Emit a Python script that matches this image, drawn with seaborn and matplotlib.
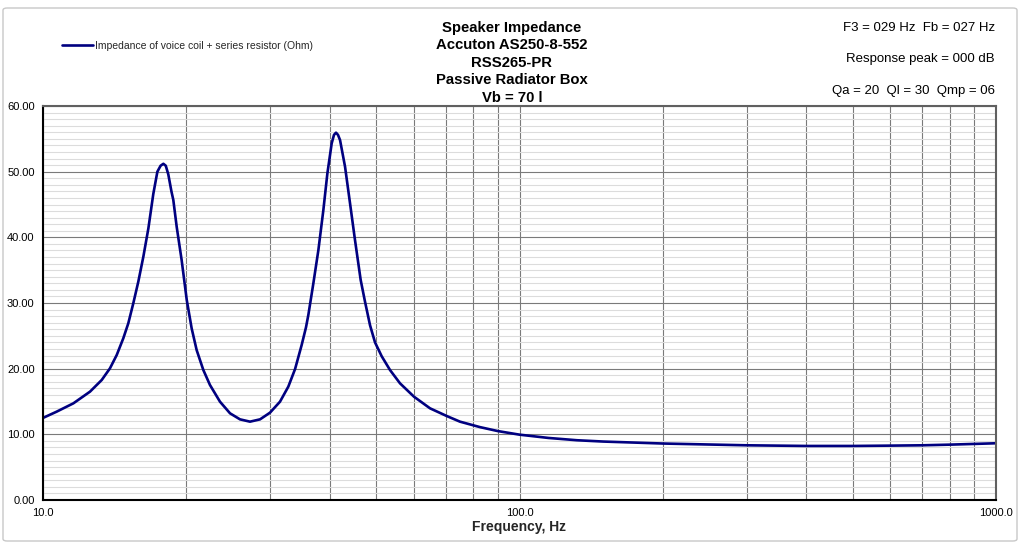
import numpy as np
import pandas as pd
import matplotlib
matplotlib.use("Agg")
import matplotlib.pyplot as plt
from matplotlib.ticker import LogLocator, FixedLocator, MultipleLocator, FuncFormatter, NullFormatter
from matplotlib.patches import FancyBboxPatch
import seaborn as sns

# ---- data ----
freq_hz = [10.0, 10.68, 11.58, 12.55, 13.28, 13.82, 14.28, 14.74, 15.10, 15.47, 15.85,
           16.24, 16.64, 17.04, 17.38, 17.65, 17.89, 18.1, 18.32, 18.6, 18.77, 19.08,
           19.54, 20.03, 20.51, 21.01, 21.70, 22.41, 23.52, 24.69, 25.91, 27.19, 28.54,
           29.95, 31.43, 32.72, 33.81, 34.9, 35.64, 36.05, 36.93, 37.84, 38.76, 39.52,
           40.35, 40.8, 41.2, 41.6, 42.01, 43.04, 44.09, 45.16, 46.42, 47.4, 48.57,
           49.75, 51.37, 53.48, 56.13, 60.06, 64.9, 70.35, 75.0, 82.6, 90.0, 100.0,
           115.0, 132.0, 150.0, 200.0, 250.0, 300.0, 400.0, 500.0, 600.0, 700.0, 800.0,
           900.0, 1000.0]
impedance_ohm = [12.5, 13.45, 14.72, 16.5, 18.27, 20.05, 22.08, 24.62, 26.9, 29.95, 33.25,
                 37.05, 41.37, 46.6, 50.0, 50.9, 51.2, 50.9, 49.6, 47.0, 45.7, 41.6,
                 36.55, 30.46, 26.14, 22.84, 19.80, 17.51, 14.97, 13.2, 12.28, 11.93, 12.28,
                 13.3, 14.97, 17.26, 19.95, 23.6, 26.3, 28.2, 32.99, 38.07, 44.16, 49.74,
                 54.31, 55.6, 55.94, 55.6, 54.82, 50.76, 45.18, 39.59, 33.5, 30.2, 26.6,
                 24.0, 21.9, 19.8, 17.77, 15.73, 13.96, 12.79, 11.93, 11.1, 10.5, 9.95,
                 9.45, 9.1, 8.9, 8.6, 8.45, 8.33, 8.23, 8.23, 8.28, 8.33, 8.43,
                 8.54, 8.64]
series_label = "Impedance of voice coil + series resistor (Ohm)"
title_lines = ["Speaker Impedance", "Accuton AS250-8-552", "RSS265-PR",
               "Passive Radiator Box", "Vb = 70 l"]
info_lines = ["F3 = 029 Hz  Fb = 027 Hz", "Response peak = 000 dB", "Qa = 20  Ql = 30  Qmp = 06"]
x_label = "Frequency, Hz"
y_ticks = [0, 10, 20, 30, 40, 50, 60]
x_ticks = [10, 100, 1000]

df = pd.DataFrame({"freq": freq_hz, "imp": impedance_ohm})

sns.set_theme(style="white")
plt.rcParams["font.family"] = ["Liberation Sans", "DejaVu Sans"]

W, H = 1024, 545
fig = plt.figure(figsize=(W / 100, H / 100), dpi=100)
fig.patch.set_facecolor("white")
ax = fig.add_axes([43 / W, 1 - 500 / H, (996 - 43) / W, (500 - 106) / H])

sns.lineplot(data=df, x="freq", y="imp", ax=ax, color="#000080", linewidth=1.9,
             label=series_label, legend=False, sort=False)
for ln in ax.get_lines():
    ln.set_solid_joinstyle("round")
    ln.set_solid_capstyle("round")

ax.set_xscale("log")
ax.set_xlim(10, 1000)
ax.set_ylim(0, 60)

ax.xaxis.set_major_locator(FixedLocator(x_ticks))
ax.xaxis.set_major_formatter(FuncFormatter(lambda v, p: f"{v:.1f}"))
ax.xaxis.set_minor_locator(LogLocator(base=10, subs=np.arange(2, 10)))
ax.xaxis.set_minor_formatter(NullFormatter())
ax.yaxis.set_major_locator(FixedLocator(y_ticks))
ax.yaxis.set_major_formatter(FuncFormatter(lambda v, p: f"{v:.2f}"))
ax.yaxis.set_minor_locator(MultipleLocator(1))

ax.grid(False)
ax.grid(which="minor", axis="y", color="#dcdcdc", linewidth=0.8, zorder=0)
ax.grid(which="major", axis="y", color="#7a7a7a", linewidth=0.8, zorder=1)
ax.grid(which="both", axis="x", color="#7a7a7a", linewidth=0.8, zorder=1)
ax.set_axisbelow(True)

ax.tick_params(axis="both", which="major", direction="out", length=4, width=1,
               color="black", labelsize=8, labelcolor="black", pad=2)
ax.tick_params(axis="x", which="minor", length=0)
ax.tick_params(axis="y", which="minor", length=0)
ax.tick_params(axis="x", which="major", length=3, pad=3)

for side in ["left", "bottom"]:
    ax.spines[side].set_color("black")
    ax.spines[side].set_linewidth(1.5)
for side in ["top", "right"]:
    ax.spines[side].set_color("#606060")
    ax.spines[side].set_linewidth(1.5)

ax.set_xlabel(x_label, fontsize=10, fontweight="bold", labelpad=1)
ax.set_ylabel("")

# Title block
for i, line in enumerate(title_lines):
    fig.text(512 / W, 1 - (28 + i * 17.4) / H, line, ha="center", va="center",
             fontsize=10.7, fontweight="bold", color="black")

# Info lines on the right
for yy, line in zip([28, 59, 91], info_lines):
    fig.text(995 / W, 1 - yy / H, line, ha="right", va="center", fontsize=9.5, color="black")

# Legend
handles, labels = ax.get_legend_handles_labels()
fig.legend(handles, labels, loc="center left", bbox_to_anchor=(62 / W, 1 - 46 / H),
           frameon=False, fontsize=7.5, handlelength=3.0, handletextpad=0.2,
           borderaxespad=0, borderpad=0)

# Outer chart frame
frame = FancyBboxPatch((3 / W, 4 / H), (1017 - 3) / W, (539 - 6) / H,
                       boxstyle="round,pad=0,rounding_size=0.004",
                       transform=fig.transFigure, fill=False,
                       edgecolor="#c8c8c8", linewidth=1.0)
fig.patches.append(frame)

fig.savefig("out.png", dpi=100, facecolor="white")
